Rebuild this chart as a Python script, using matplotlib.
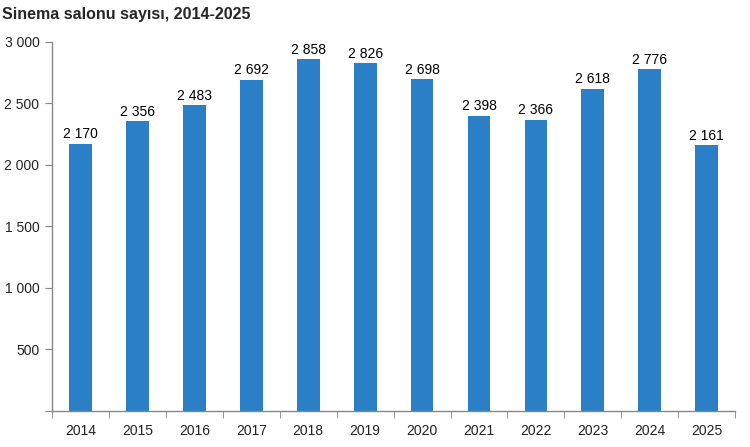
import matplotlib
matplotlib.use('Agg')
import matplotlib.pyplot as plt
import numpy as np

plt.rcParams['font.family'] = ['Liberation Sans', 'DejaVu Sans']

years = ['2014', '2015', '2016', '2017', '2018', '2019', '2020',
         '2021', '2022', '2023', '2024', '2025']
salons = [2170, 2356, 2483, 2692, 2858, 2826, 2698, 2398, 2366, 2618, 2776, 2161]

bar_color = '#2a7fc6'
axis_color = '#868686'

fig = plt.figure(figsize=(7.5, 4.47), dpi=100)
ax = fig.add_axes([0.0693, 0.0805, 0.911, 0.826])

x = np.arange(len(years))
ax.bar(x, salons, width=0.4, color=bar_color)

# value labels above bars
for xi, v in zip(x, salons):
    lbl = f'{v:,}'.replace(',', ' ')
    ax.text(xi, v + 20, lbl, ha='center', va='bottom', fontsize=10, color='#000000')

ax.set_xlim(-0.5, len(years) - 0.5)
ax.set_ylim(0, 3000)
ax.set_yticks([0, 500, 1000, 1500, 2000, 2500, 3000])
ax.set_yticklabels(['', '500', '1 000', '1 500', '2 000', '2 500', '3 000'])
ax.set_xticks(x)
ax.set_xticklabels(years)
ax.set_xticks(np.arange(-0.5, len(years)), minor=True)
ax.tick_params(axis='x', which='major', length=0, labelsize=10, pad=9)
ax.tick_params(axis='x', which='minor', length=5, direction='out', color=axis_color)
ax.tick_params(axis='y', length=5, direction='out', color=axis_color, labelsize=10, pad=4)
for t in ax.get_xticklabels() + ax.get_yticklabels():
    t.set_color('#222222')

for s in ['top', 'right']:
    ax.spines[s].set_visible(False)
for s in ['left', 'bottom']:
    ax.spines[s].set_color(axis_color)
    ax.spines[s].set_linewidth(1)

fig.text(0.003, 0.968, 'Sinema salonu sayısı, 2014-2025', fontsize=11.5, fontweight='bold',
         color='#262626', ha='left', va='center')

fig.savefig('out.png', dpi=100)
